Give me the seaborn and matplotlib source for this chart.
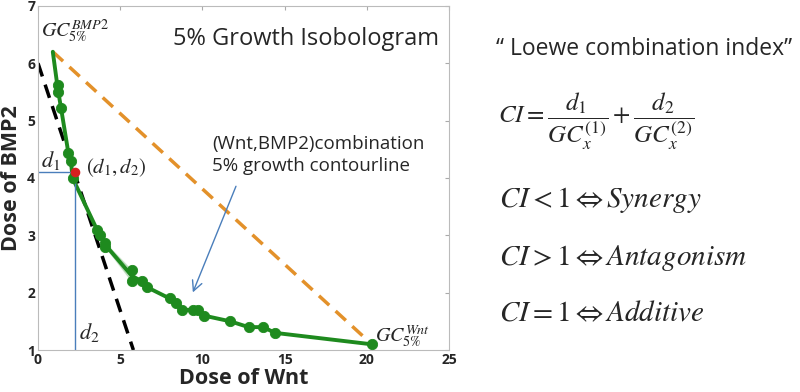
import seaborn as sns
import pandas as pd
import matplotlib.pyplot as plt

# contour points
wnt = [0.9, 1.2, 1.2, 1.4, 1.85, 2.0, 2.1, 3.6, 3.77, 4.1, 4.1, 5.7, 5.7, 6.3, 6.6,
       8.0, 8.4, 8.75, 9.4, 9.7, 10.1, 11.7, 12.8, 13.7, 14.4, 20.3]
bmp2 = [6.2, 5.62, 5.5, 5.22, 4.43, 4.3, 4.0, 3.09, 3.0, 2.86, 2.8, 2.39, 2.2, 2.2, 2.1,
        1.9, 1.82, 1.7, 1.7, 1.7, 1.6, 1.5, 1.4, 1.4, 1.3, 1.1]
tangent_x = [0.0, 5.8]
tangent_y = [6.0, 1.0]
d1d2 = (2.25, 4.1)
xticks = [0, 5, 10, 15, 20, 25]
yticks = [1, 2, 3, 4, 5, 6, 7]

sns.set_style("white")
plt.rcParams["font.family"] = ["Open Sans", "DejaVu Sans"]
plt.rcParams["mathtext.fontset"] = "stix"

df = pd.DataFrame({"Wnt": wnt, "BMP2": bmp2})

fig = plt.figure(figsize=(8, 3.92), dpi=100)
ax = fig.add_axes([0.0475, 0.107, 0.514, 0.878])

green = "#1e8a1e"
orange = "#e3912a"
blue = "#4a7ebb"

# additive line between the two single-agent doses
sns.lineplot(x=[wnt[0], wnt[-1]], y=[bmp2[0], bmp2[-1]], ax=ax, color=orange,
             lw=2.5, linestyle=(0, (4, 2.5)))
sns.lineplot(x=tangent_x, y=tangent_y, ax=ax, color="black", lw=2.5,
             linestyle=(0, (4, 2.5)))
sns.lineplot(data=df, x="Wnt", y="BMP2", sort=False, ax=ax, color=green, lw=2.8)
sns.scatterplot(data=df.iloc[1:], x="Wnt", y="BMP2", ax=ax, color=green, s=55,
                edgecolor=green, zorder=4)

# d1 / d2 guides
ax.plot([0, d1d2[0]], [d1d2[1], d1d2[1]], color=blue, lw=1)
ax.plot([d1d2[0], d1d2[0]], [1, d1d2[1]], color=blue, lw=1)
ax.scatter([d1d2[0]], [d1d2[1]], color="#d62020", s=35, zorder=5)
ax.annotate("", xy=(9.35, 1.96), xytext=(12.1, 3.9),
            arrowprops=dict(arrowstyle="->", color=blue, lw=1, mutation_scale=18))

ax.set_xlim(0, 25)
ax.set_ylim(1, 7)
ax.set_xticks(xticks)
ax.set_yticks(yticks)
ax.tick_params(direction="in", length=3, labelsize=10, color="#aaaaaa",
               top=True, right=True, pad=2)
for lab in ax.get_xticklabels() + ax.get_yticklabels():
    lab.set_fontweight("bold")
for s in ax.spines.values():
    s.set_color("#bbbbbb")
    s.set_linewidth(0.8)
ax.set_xlabel("Dose of Wnt", fontsize=15.5, fontweight="bold", labelpad=1)
ax.set_ylabel("Dose of BMP2", fontsize=15.5, fontweight="bold", labelpad=4)

ax.text(16.3, 6.42, "5% Growth Isobologram", fontsize=17, ha="center", va="center")
ax.text(10.6, 4.4, "(Wnt,BMP2)combination\n5% growth contourline", fontsize=13.5,
        ha="left", va="center", linespacing=1.25)
ax.text(0.2, 6.55, r"$GC_{5\%}^{BMP2}$", fontsize=14.5, va="center")
ax.text(0.2, 4.3, r"$d_1$", fontsize=16, va="center")
ax.text(2.9, 4.18, r"$(d_1,d_2)$", fontsize=15, va="center")
ax.text(2.5, 1.3, r"$d_2$", fontsize=16, va="center")
ax.text(20.5, 1.25, r"$GC_{5\%}^{Wnt}$", fontsize=14.5, va="center")

fig.text(0.62, 0.875, "\u201c Loewe combination index\u201d", fontsize=16.5, va="center")
fig.text(0.622, 0.69,
         r"$CI=\dfrac{d_1}{GC_x^{(1)}}+\dfrac{d_2}{GC_x^{(2)}}$",
         fontsize=18, va="center")
fig.text(0.624, 0.49, r"$CI<1 \Leftrightarrow Synergy$", fontsize=21, va="center")
fig.text(0.624, 0.342, r"$CI>1 \Leftrightarrow Antagonism$", fontsize=21, va="center")
fig.text(0.624, 0.20, r"$CI=1 \Leftrightarrow Additive$", fontsize=21, va="center")

fig.savefig("out.png", dpi=100)
